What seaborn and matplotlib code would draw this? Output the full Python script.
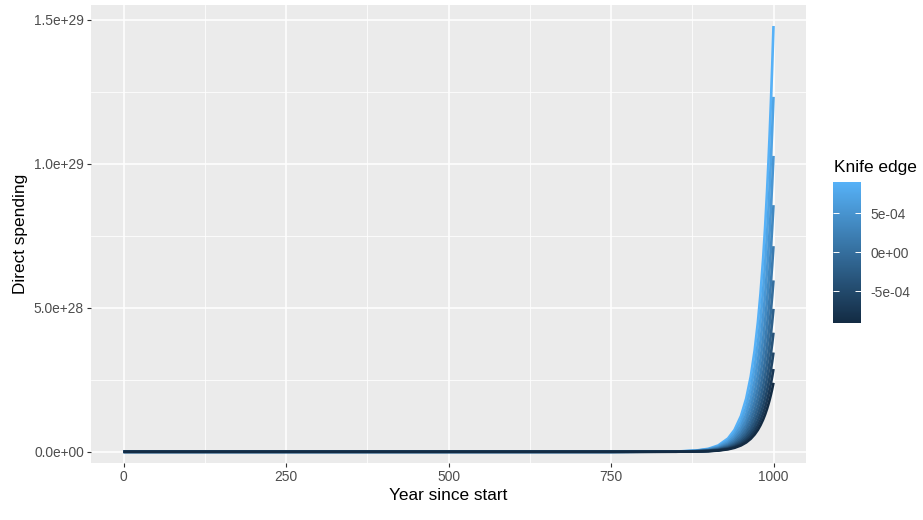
import numpy as np
import pandas as pd
import seaborn as sns
import matplotlib as mpl
import matplotlib.pyplot as plt
from matplotlib.colors import LinearSegmentedColormap, Normalize

# years sampled along each curve (denser near the end where the curves shoot up)
years = [0, 500, 750, 850, 880, 900, 915, 930, 940, 950, 958, 965, 971,
         976, 980, 984, 987, 990, 992, 994, 996, 998, 1000]

# knife edge value of each curve (top curve first)
knife_edge = [0.0009, 0.00072, 0.00054, 0.00036, 0.00018, 0.0,
              -0.00018, -0.00036, -0.00054, -0.00072, -0.0009]

# direct spending, in units of 1e27, one row per knife edge value
spending_e27 = [
    [4.7e-20, 2.63e-9, 6.24e-4, 0.0882, 0.3893, 1.0476, 2.201, 4.625, 7.588, 12.45, 18.50, 26.15, 35.20,
     45.08, 54.96, 66.99, 77.71, 90.16, 99.54, 109.89, 121.33, 133.96, 147.9],
    [4.7e-20, 2.40e-9, 5.44e-4, 0.0756, 0.3317, 0.8893, 1.863, 3.905, 6.395, 10.473, 15.540, 21.938, 29.498,
     37.735, 45.983, 56.006, 64.932, 75.294, 83.097, 91.705, 101.215, 111.71, 123.29],
    [4.7e-20, 2.19e-9, 4.75e-4, 0.0647, 0.2826, 0.7549, 1.578, 3.297, 5.389, 8.810, 13.053, 18.403, 24.720,
     31.587, 38.472, 46.823, 54.255, 62.880, 69.370, 76.529, 84.435, 93.155, 102.77],
    [4.7e-20, 2.00e-9, 4.14e-4, 0.0555, 0.2408, 0.6409, 1.336, 2.783, 4.542, 7.411, 10.965, 15.438, 20.716,
     26.441, 32.188, 39.145, 45.334, 52.512, 57.911, 63.864, 70.437, 77.682, 85.67],
    [4.7e-20, 1.83e-9, 3.61e-4, 0.0475, 0.2052, 0.5440, 1.131, 2.350, 3.828, 6.234, 9.210, 12.951, 17.360,
     22.133, 26.930, 32.726, 37.880, 43.854, 48.345, 53.295, 58.759, 64.779, 71.42],
    [4.7e-20, 1.67e-9, 3.15e-4, 0.0407, 0.1748, 0.4618, 0.957, 1.984, 3.226, 5.245, 7.737, 10.864, 14.548,
     18.527, 22.531, 27.360, 31.651, 36.623, 40.359, 44.475, 49.017, 54.019, 59.53],
    [4.7e-20, 1.52e-9, 2.75e-4, 0.0349, 0.1489, 0.3921, 0.810, 1.675, 2.719, 4.412, 6.499, 9.114, 12.191,
     15.509, 18.851, 22.874, 26.447, 30.585, 33.692, 37.115, 40.890, 45.047, 49.63],
    [4.7e-20, 1.39e-9, 2.40e-4, 0.0299, 0.1269, 0.3328, 0.686, 1.414, 2.291, 3.711, 5.459, 7.646, 10.216,
     12.982, 15.772, 19.123, 22.098, 25.542, 28.126, 30.973, 34.111, 37.565, 41.37],
    [4.7e-20, 1.27e-9, 2.09e-4, 0.0256, 0.1081, 0.2825, 0.581, 1.194, 1.931, 3.122, 4.586, 6.414, 8.561,
     10.867, 13.196, 15.987, 18.464, 21.331, 23.480, 25.847, 28.456, 31.325, 34.48],
    [4.7e-20, 1.16e-9, 1.83e-4, 0.0219, 0.0921, 0.2398, 0.492, 1.008, 1.627, 2.626, 3.852, 5.381, 7.174,
     9.097, 11.041, 13.366, 15.428, 17.814, 19.601, 21.570, 23.738, 26.122, 28.75],
    [4.7e-20, 1.06e-9, 1.59e-4, 0.0188, 0.0785, 0.2036, 0.416, 0.851, 1.371, 2.209, 3.236, 4.514, 6.012,
     7.615, 9.238, 11.174, 12.891, 14.877, 16.363, 18.000, 19.803, 21.783, 23.96],
]

x_ticks = [0, 250, 500, 750, 1000]
y_ticks = [0, 5e28, 1e29, 1.5e29]
y_ticklabels = ["0.0e+00", "5.0e+28", "1.0e+29", "1.5e+29"]
cb_ticks = [-5e-4, 0, 5e-4]
cb_ticklabels = ["-5e-04", "0e+00", "5e-04"]

rows = []
for k, vals in zip(knife_edge, spending_e27):
    for yr, v in zip(years, vals):
        rows.append({"year": yr, "spending": v * 1e27, "knife": k})
df = pd.DataFrame(rows)

plt.rcParams['font.family'] = ['Liberation Sans', 'DejaVu Sans']

W, H = 923, 520
fig = plt.figure(figsize=(W / 100, H / 100), dpi=100)
ax = fig.add_axes([91 / W, 1 - 463 / H, (806 - 91) / W, (463 - 5) / H])

cmap = LinearSegmentedColormap.from_list("gg", ["#132B43", "#56B1F7"])
norm = Normalize(min(knife_edge), max(knife_edge))
pal = {k: cmap(norm(k)) for k in knife_edge}
# light curves first, dark ones on top
order = sorted(knife_edge, reverse=True)

sns.lineplot(data=df, x="year", y="spending", hue="knife", hue_order=order,
             palette=pal, estimator=None, sort=False, legend=False,
             linewidth=1.9, solid_capstyle='butt', ax=ax)

ax.set_facecolor('#EBEBEB')
for s in ax.spines.values():
    s.set_visible(False)
ax.set_xlim(-50, 1050)
ax.set_ylim(-3.9e27, 1.552e29)
ax.set_xticks(x_ticks)
ax.set_xticks([125, 375, 625, 875], minor=True)
ax.set_yticks(y_ticks)
ax.set_yticklabels(y_ticklabels)
ax.set_yticks([2.5e28, 7.5e28, 1.25e29], minor=True)
ax.grid(which='major', color='white', linewidth=1.1)
ax.grid(which='minor', color='white', linewidth=0.55)
ax.set_axisbelow(True)
ax.tick_params(which='major', length=2.9, width=0.8, color='#333333',
               labelcolor='#4D4D4D', labelsize=9.9, pad=2.2)
ax.tick_params(which='minor', length=0)
ax.set_xlabel("Year since start", fontsize=12.4, color='black', labelpad=3)
ax.set_ylabel("Direct spending", fontsize=12.4, color='black', labelpad=4)

# colour bar legend
cax = fig.add_axes([833 / W, 1 - 322.7 / H, 28 / W, 140.4 / H])
sm = mpl.cm.ScalarMappable(norm=norm, cmap=cmap)
cb = fig.colorbar(sm, cax=cax)
cb.outline.set_visible(False)
cb.set_ticks(cb_ticks)
cb.set_ticklabels(cb_ticklabels)
cax.minorticks_off()
cax.tick_params(axis='y', direction='in', left=True, right=True, color='white',
                length=4, width=0.7, labelcolor='#4D4D4D', labelsize=9.9, pad=6.5)
fig.text(834 / W, 1 - 172 / H, "Knife edge", fontsize=12.4, ha='left', va='baseline')

fig.savefig("out.png", dpi=100)
